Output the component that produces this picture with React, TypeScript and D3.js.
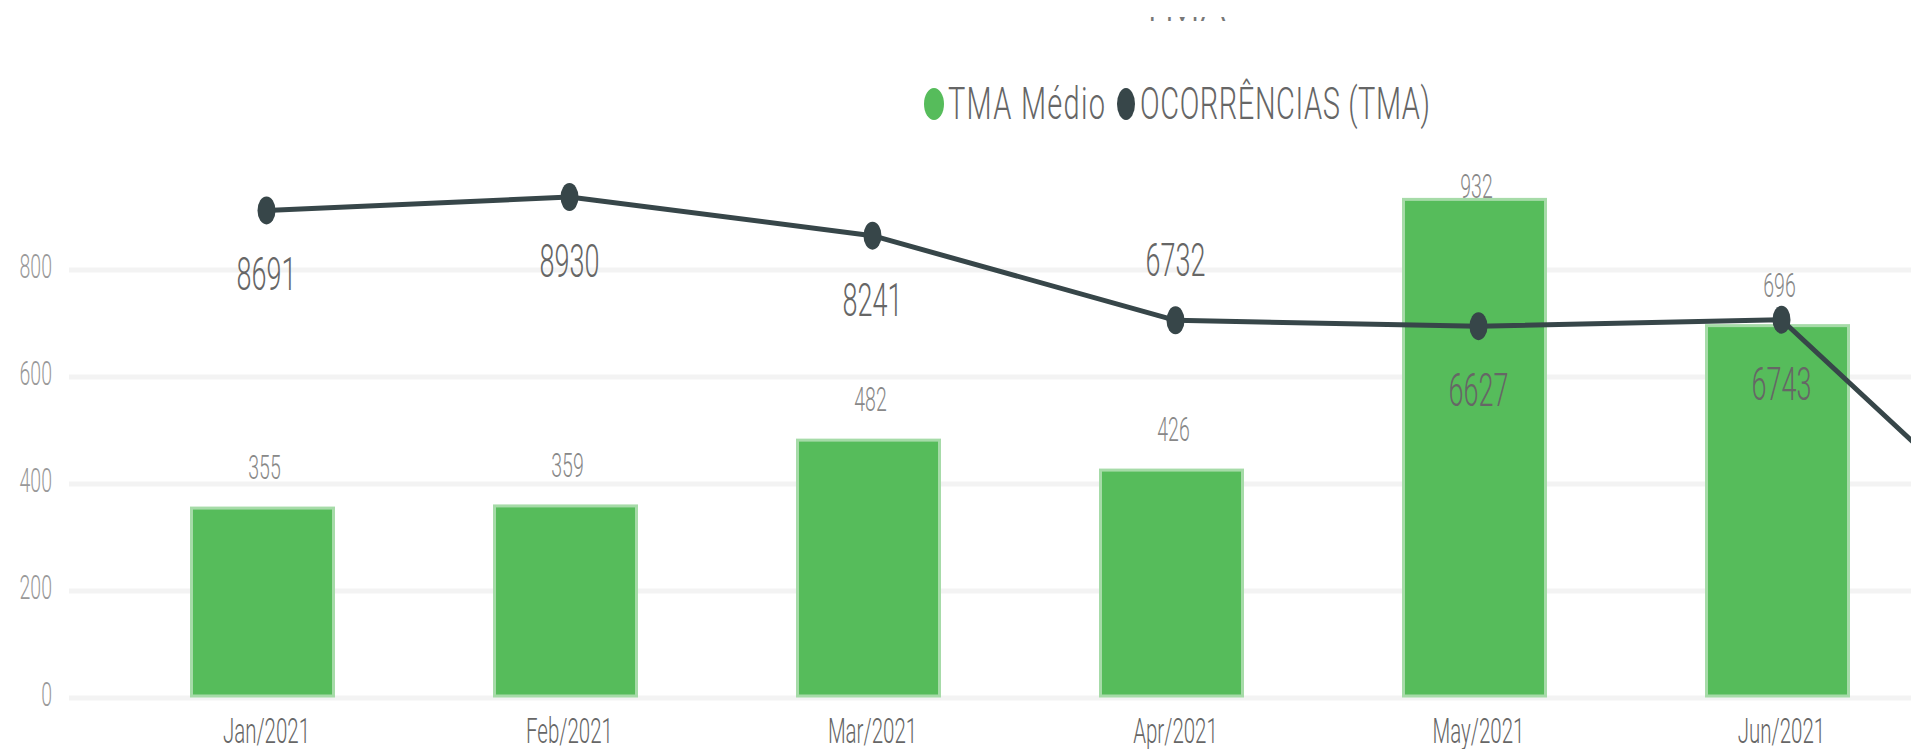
import React from "react";
import * as d3 from "d3";

const months = ["Jan/2021", "Feb/2021", "Mar/2021", "Apr/2021", "May/2021", "Jun/2021", "Jul/2021"];
const tmaMedio = [355, 359, 482, 426, 932, 696];
const ocorrencias = [8691, 8930, 8241, 6732, 6627, 6743, 1720];
const yTicks = [0, 200, 400, 600, 800];
const labelsAboveLine = ["Apr/2021"];
const legendItems = ["TMA Médio", "OCORRÊNCIAS (TMA)"];
const titleText = "TMA";

const W = 1911;
const H = 749;
const SY = 1.7;
const FONT = "Roboto, 'Open Sans', sans-serif";
const GREEN = "#56BC5B";
const GREEN_EDGE = "#A6DBA8";
const DARK = "#374649";

function STxt(props: any) {
  const { x, y, size, fill, anchor, children, sy, len, weight } = props;
  return (
    <text
      transform={`translate(${x},${y}) scale(1,${sy ?? SY})`}
      fontFamily={FONT}
      fontSize={size}
      fontWeight={weight ?? 300}
      fill={fill}
      textAnchor={anchor ?? "middle"}
      textLength={len}
      lengthAdjust={len ? "spacing" : undefined}
    >
      {children}
    </text>
  );
}

export default function App() {
  const x = d3.scalePoint<string>().domain(months).range([262.5, 262.5 + 303 * (months.length - 1)]);
  const y1 = d3.scaleLinear().domain([0, 1000]).range([698, 163]);
  const y2 = d3.scaleLinear().domain([0, 10000]).range([698, 137]);
  const barW = 142;
  const lineOff = 4;

  const linePts: [number, number][] = ocorrencias.map((v, i) => [(x(months[i]) as number) + lineOff, y2(v)]);
  const lineGen = d3.line();
  const visible = (px: number) => px < W - 20;

  return (
    <svg width={W} height={H} style={{ position: "absolute", left: 0, top: 0, background: "#fff" }}>
      <defs>
        <clipPath id="titleClip">
          <rect x={0} y={17} width={W} height={5} />
        </clipPath>
      </defs>
      {/* clipped title remnant */}
      <g clipPath="url(#titleClip)">
        <text x={1183} y={21} fontFamily={FONT} fontSize={41} fontWeight={300} fill="#777" textAnchor="middle">
          {titleText}
        </text>
      </g>

      {/* legend */}
      <ellipse cx={934} cy={104} rx={10} ry={16} fill={GREEN} />
      <STxt x={948} y={119} size={29} sy={1.52} fill="#666" anchor="start" len={157}>{legendItems[0]}</STxt>
      <ellipse cx={1126} cy={104} rx={9} ry={16} fill={DARK} />
      <STxt x={1140} y={119} size={29} sy={1.52} fill="#666" anchor="start" len={290}>{legendItems[1]}</STxt>

      {/* gridlines & y axis */}
      {yTicks.map((t) => (
        <g key={t}>
          <line x1={69} x2={W} y1={y1(t)} y2={y1(t)} stroke="#f3f3f3" strokeWidth={5} />
          <STxt x={52} y={y1(t) + 8} size={19.5} fill="#999" anchor="end">{t}</STxt>
        </g>
      ))}

      {/* bars */}
      {tmaMedio.map((v, i) => {
        const cx = x(months[i]) as number;
        const top = y1(v);
        return (
          <rect
            key={months[i]}
            x={cx - barW / 2}
            y={top}
            width={barW}
            height={y1(0) - top - 2}
            fill={GREEN}
            stroke={GREEN_EDGE}
            strokeWidth={3}
          />
        );
      })}

      {/* bar labels */}
      {tmaMedio.map((v, i) => {
        const cx = x(months[i]) as number;
        const base = Math.max(y1(v) - 29, y1(1000) + 35);
        return (
          <STxt key={months[i]} x={cx + 2} y={base} size={19.5} fill="#888">{v}</STxt>
        );
      })}

      {/* line */}
      <path d={lineGen(linePts) || ""} fill="none" stroke={DARK} strokeWidth={5} strokeLinejoin="round" />
      {linePts.map((p, i) => (
        <ellipse key={months[i]} cx={p[0]} cy={p[1]} rx={9} ry={14} fill={DARK} />
      ))}

      {/* line labels */}
      {ocorrencias.map((v, i) => {
        const p = linePts[i];
        if (!visible(p[0])) return null;
        const above = labelsAboveLine.includes(months[i]);
        return (
          <STxt key={months[i]} x={p[0]} y={above ? p[1] - 44 : p[1] + 80} size={27} fill="#666">{v}</STxt>
        );
      })}

      {/* x axis labels */}
      {months.filter((m) => visible(x(m) as number)).map((m) => (
        <STxt key={m} x={(x(m) as number) + lineOff} y={743} size={20.5} fill="#666">{m}</STxt>
      ))}
    </svg>
  );
}
